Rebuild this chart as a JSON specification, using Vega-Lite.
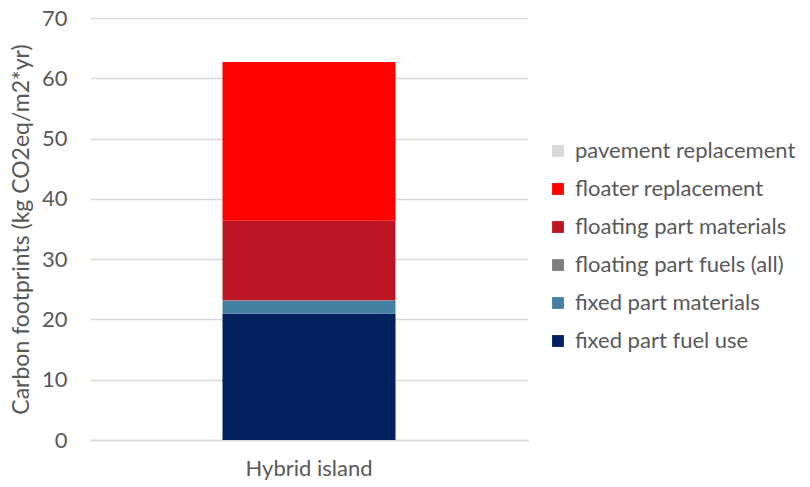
{
  "$schema": "https://vega.github.io/schema/vega-lite/v6.json",
  "width": 438,
  "height": 422,
  "autosize": {"type": "none"},
  "padding": {"left": 90, "top": 18, "right": 282, "bottom": 47},
  "background": "white",
  "config": {
    "view": {"stroke": null},
    "font": "Lato",
    "axis": {
      "labelFont": "Lato",
      "titleFont": "Lato",
      "labelColor": "#595959",
      "titleColor": "#595959",
      "labelFontSize": 22,
      "titleFontSize": 23,
      "titleFontWeight": "normal"
    },
    "legend": {
      "labelFont": "Lato",
      "labelColor": "#595959",
      "labelFontSize": 22,
      "labelLimit": 0
    }
  },
  "data": {
    "values": [
      {"scenario": "Hybrid island", "component": "fixed part fuel use", "value": 20.95},
      {"scenario": "Hybrid island", "component": "fixed part materials", "value": 2.15},
      {"scenario": "Hybrid island", "component": "floating part fuels (all)", "value": 0.1},
      {"scenario": "Hybrid island", "component": "floating part materials", "value": 13.17},
      {"scenario": "Hybrid island", "component": "floater replacement", "value": 26.33},
      {"scenario": "Hybrid island", "component": "pavement replacement", "value": 0.0}
    ]
  },
  "transform": [
    {
      "calculate": "indexof(['fixed part fuel use', 'fixed part materials', 'floating part fuels (all)', 'floating part materials', 'floater replacement', 'pavement replacement'], datum.component)",
      "as": "stackRank"
    }
  ],
  "mark": {"type": "bar"},
  "encoding": {
    "x": {
      "field": "scenario",
      "type": "nominal",
      "title": null,
      "scale": {"paddingInner": 0, "paddingOuter": 0.766},
      "axis": {
        "labelAngle": 0,
        "ticks": false,
        "domain": true,
        "domainColor": "#D9D9D9",
        "domainWidth": 1.3,
        "labelPadding": 18
      }
    },
    "y": {
      "field": "value",
      "type": "quantitative",
      "stack": "zero",
      "title": "Carbon footprints (kg CO2eq/m2*yr)",
      "scale": {"domain": [0, 70], "nice": false},
      "axis": {
        "values": [0, 10, 20, 30, 40, 50, 60, 70],
        "domain": false,
        "ticks": false,
        "grid": true,
        "gridColor": "#D9D9D9",
        "gridWidth": 1.3,
        "labelPadding": 23,
        "titlePadding": 8
      }
    },
    "color": {
      "field": "component",
      "type": "nominal",
      "sort": [
        "pavement replacement",
        "floater replacement",
        "floating part materials",
        "floating part fuels (all)",
        "fixed part materials",
        "fixed part fuel use"
      ],
      "scale": {
        "range": ["#D9D9D9", "#FF0000", "#BE1525", "#7F7F7F", "#4380A4", "#002060"]
      },
      "legend": {
        "title": null,
        "orient": "none",
        "legendX": 457,
        "legendY": 122,
        "symbolType": "square",
        "symbolSize": 140,
        "symbolStrokeWidth": 0,
        "labelOffset": 6,
        "rowPadding": 16
      }
    },
    "order": {"field": "stackRank", "type": "quantitative", "sort": "ascending"}
  }
}
